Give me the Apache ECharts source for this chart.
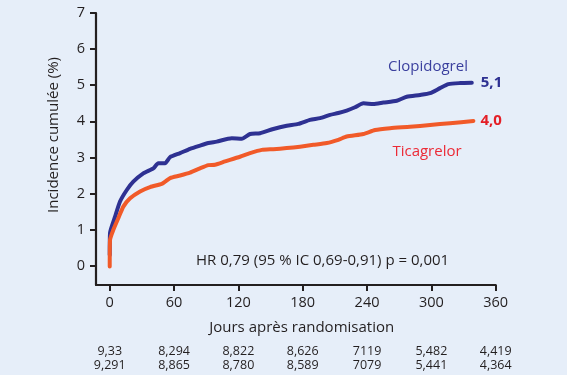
<!DOCTYPE html>
<html>
<head>
<meta charset="utf-8">
<script src="https://cdn.jsdelivr.net/npm/echarts@6/dist/echarts.min.js"></script>
<style>
html,body{margin:0;padding:0;background:#e6eef9;}
#c{width:567px;height:375px;}
</style>
</head>
<body>
<div id="c"></div>
<script>
const xTicks = [0, 60, 120, 180, 240, 300, 360];
const yTicks = [0, 1, 2, 3, 4, 5, 6, 7];
const clopidogrelDays = [0, 0.3, 5, 9.6, 15.9, 22, 31.3, 40.7, 45.3, 51.6, 56.3, 65.6, 74.9, 84.2, 92, 99.8, 113.8, 123.1, 130.9, 140.2, 152.6, 165.1, 175.9, 186.8, 196.2, 205.5, 213.2, 221, 228.8, 236.6, 245.9, 255.2, 267.7, 277, 289.5, 298.8, 308.1, 315.9, 326.8, 337.7];
const clopidogrelValues = [0.3, 0.91, 1.36, 1.78, 2.10, 2.33, 2.56, 2.70, 2.84, 2.84, 3.01, 3.12, 3.24, 3.33, 3.40, 3.44, 3.53, 3.52, 3.65, 3.67, 3.79, 3.88, 3.93, 4.04, 4.09, 4.18, 4.23, 4.30, 4.39, 4.50, 4.48, 4.52, 4.57, 4.68, 4.73, 4.78, 4.92, 5.03, 5.06, 5.07];
const ticagrelorDays = [0, 0.3, 3.4, 8, 12.7, 19, 28.3, 37.6, 48.5, 51.6, 56.3, 65.6, 74.9, 84.2, 92, 98.2, 107.6, 121.5, 130.9, 141.8, 152.6, 165.1, 177.5, 189.9, 202.4, 213.2, 221, 236.6, 247.5, 261.5, 280.1, 298.8, 317.4, 339.2];
const ticagrelorValues = [-0.02, 0.72, 1.0, 1.32, 1.64, 1.87, 2.06, 2.18, 2.27, 2.33, 2.43, 2.50, 2.58, 2.70, 2.79, 2.80, 2.89, 3.02, 3.12, 3.21, 3.23, 3.26, 3.30, 3.35, 3.40, 3.49, 3.58, 3.65, 3.76, 3.81, 3.85, 3.90, 3.95, 4.01];
const atRiskClopidogrel = ['9,33', '8,294', '8,822', '8,626', '7119', '5,482', '4,419'];
const atRiskTicagrelor = ['9,291', '8,865', '8,780', '8,589', '7079', '5,441', '4,364'];
const seriesNames = ['Clopidogrel', 'Ticagrelor'];
const hrText = 'HR 0,79 (95 % IC 0,69-0,91) p = 0,001';
const xTitle = 'Jours après randomisation';
const yTitle = 'Incidence cumulée (%)';

const FONT = 'Open Sans';
const TXT = '#231f20';
const BLUE = '#2e3192';
const ORANGE = '#f15a29';

const zip = (a, b) => a.map((v, i) => [v, b[i]]);
const chart = echarts.init(document.getElementById('c'), null, {renderer: 'canvas'});
const fmt = v => v.toFixed(1).replace('.', ',');

chart.setOption({
  backgroundColor: '#e6eef9',
  animation: false,
  grid: {left: 96, right: 71.3, top: 13, bottom: 90, containLabel: false},
  xAxis: {
    type: 'value', min: -12.8, max: 360,
    axisLine: {show: true, onZero: false, lineStyle: {color: TXT, width: 2.2}},
    axisTick: {show: true, length: 6, lineStyle: {color: TXT, width: 2}, customValues: xTicks},
    axisLabel: {show: true, margin: 10, color: TXT, fontFamily: FONT, fontSize: 14.5, customValues: xTicks},
    splitLine: {show: false}
  },
  yAxis: {
    type: 'value', min: -0.53, max: 7,
    axisLine: {show: true, onZero: false, lineStyle: {color: TXT, width: 2.2}},
    axisTick: {show: true, length: 6, lineStyle: {color: TXT, width: 2}, customValues: yTicks},
    axisLabel: {show: true, margin: 11, color: TXT, fontFamily: FONT, fontSize: 14.5, customValues: yTicks},
    splitLine: {show: false}
  },
  series: [
    {
      name: seriesNames[0], type: 'line', showSymbol: false, symbol: 'none', smooth: 0.2,
      data: zip(clopidogrelDays, clopidogrelValues),
      lineStyle: {color: BLUE, width: 4, cap: 'round', join: 'round'},
      endLabel: {show: true, distance: 9, formatter: p => fmt(p.value[1]), color: BLUE, fontWeight: 'bold', fontSize: 15, fontFamily: FONT}
    },
    {
      name: seriesNames[1], type: 'line', showSymbol: false, symbol: 'none', smooth: 0.2,
      data: zip(ticagrelorDays, ticagrelorValues),
      lineStyle: {color: ORANGE, width: 4, cap: 'round', join: 'round'},
      endLabel: {show: true, distance: 7, formatter: p => fmt(p.value[1]), color: '#e41e26', fontWeight: 'bold', fontSize: 15, fontFamily: FONT}
    }
  ]
});

const px = (x, y) => chart.convertToPixel({gridIndex: 0}, [x, y]);
const graphics = [];
xTicks.forEach((t, i) => {
  const x = px(t, 0)[0];
  graphics.push({type: 'text', x: x, y: 351.7, style: {text: atRiskClopidogrel[i], fill: TXT, font: '12.5px "' + FONT + '"', align: 'center', verticalAlign: 'middle'}});
  graphics.push({type: 'text', x: x, y: 365, style: {text: atRiskTicagrelor[i], fill: TXT, font: '12.5px "' + FONT + '"', align: 'center', verticalAlign: 'middle'}});
});
graphics.push({type: 'text', x: 196, y: 261, style: {text: hrText, fill: TXT, font: '15px "' + FONT + '"', align: 'left', verticalAlign: 'middle'}});
graphics.push({type: 'text', x: 301.7, y: 327.5, style: {text: xTitle, fill: TXT, font: '15px "' + FONT + '"', align: 'center', verticalAlign: 'middle'}});
graphics.push({type: 'text', x: 54, y: 135, rotation: Math.PI / 2, style: {text: yTitle, fill: TXT, font: '15px "' + FONT + '"', align: 'center', verticalAlign: 'middle'}});
graphics.push({type: 'text', x: 428, y: 67, style: {text: seriesNames[0], fill: '#3a3f9e', font: '15px "' + FONT + '"', align: 'center', verticalAlign: 'middle'}});
graphics.push({type: 'text', x: 427, y: 152, style: {text: seriesNames[1], fill: '#ec2a36', font: '15px "' + FONT + '"', align: 'center', verticalAlign: 'middle'}});
chart.setOption({graphic: graphics});
</script>
</body>
</html>
